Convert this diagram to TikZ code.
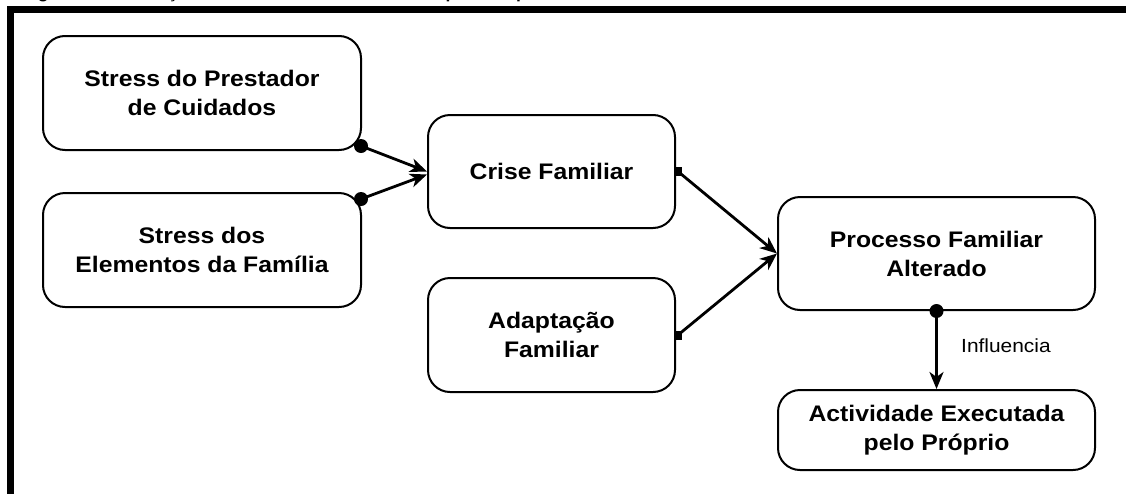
\documentclass[tikz,border=0pt]{standalone}
\usepackage{fontspec}
\setmainfont{Liberation Sans}[FakeStretch=1.1]
\usetikzlibrary{arrows.meta,calc}
\tikzset{
  box/.style={draw,line width=2pt,rounded corners=22pt,inner sep=0pt,align=center,
    font=\fontsize{22.5}{29}\selectfont\bfseries},
  conn/.style={line width=2.8pt,-{Stealth[length=17pt,width=14pt,inset=5pt]}},
  dotm/.style={fill=black,circle,inner sep=0pt,minimum size=14pt},
  sqm/.style={fill=black,rectangle,inner sep=0pt,minimum width=7pt,minimum height=9pt},
  lbl/.style={font=\fontsize{19}{21}\selectfont},
}
\begin{document}
\begin{tikzpicture}[x=1pt,y=-1pt]
\useasboundingbox (0,0) rectangle (1126,493);
\clip (0,0) rectangle (1126,493);
\fill[white] (0,0) rectangle (1126,493);
% title (cut off by the top edge)
\node[anchor=base west,inner sep=0pt,font=\fontsize{16}{18}\selectfont\bfseries] (title) at (22,-2)
  {Figura 2 -- Interacção com a Actividade Executada pelo Próprio};
% frame
\draw[line width=7pt] (10,1200) -- (10,9.5) -- (1300,9.5);
% boxes
\node[box,minimum width=318pt,minimum height=114pt] (s1) at (202,93) {Stress do Prestador\\de Cuidados};
\node[box,minimum width=318pt,minimum height=114pt] (s2) at (202,250) {Stress dos\\Elementos da Família};
\node[box,minimum width=247pt,minimum height=113pt] (crise) at (551.5,171.5) {Crise Familiar};
\node[box,minimum width=247pt,minimum height=114pt] (adapt) at (551.5,335) {Adaptação\\Familiar};
\node[box,minimum width=317pt,minimum height=113pt] (proc) at (936.5,253.5) {Processo Familiar\\Alterado};
\node[box,minimum width=317pt,minimum height=80pt] (act) at (936.5,430) {Actividade Executada\\pelo Próprio};
% connector start points
\coordinate (c1) at ($(s1.south east)+(-1,-5)$);
\coordinate (c2) at ($(s2.north east)+(-1,7)$);
\coordinate (c3) at ($(crise.east)+(2,0)$);
\coordinate (c4) at ($(adapt.east)+(2,0)$);
\coordinate (c5) at (proc.south);
% connectors
\draw[conn] (c1) -- (crise.west);
\draw[conn] (c2) -- ($(crise.west)+(0,3)$);
\draw[conn] (c3) -- (proc.west);
\draw[conn] (c4) -- (proc.west);
\draw[conn] (c5) -- node[lbl,right=20pt,pos=0.45] (infl) {Influencia} (act.north);
% markers
\node[dotm] (d1) at (c1) {};
\node[dotm] (d2) at (c2) {};
\node[sqm] (q1) at (c3) {};
\node[sqm] (q2) at (c4) {};
\node[dotm] (d5) at (c5) {};
\end{tikzpicture}
\end{document}
